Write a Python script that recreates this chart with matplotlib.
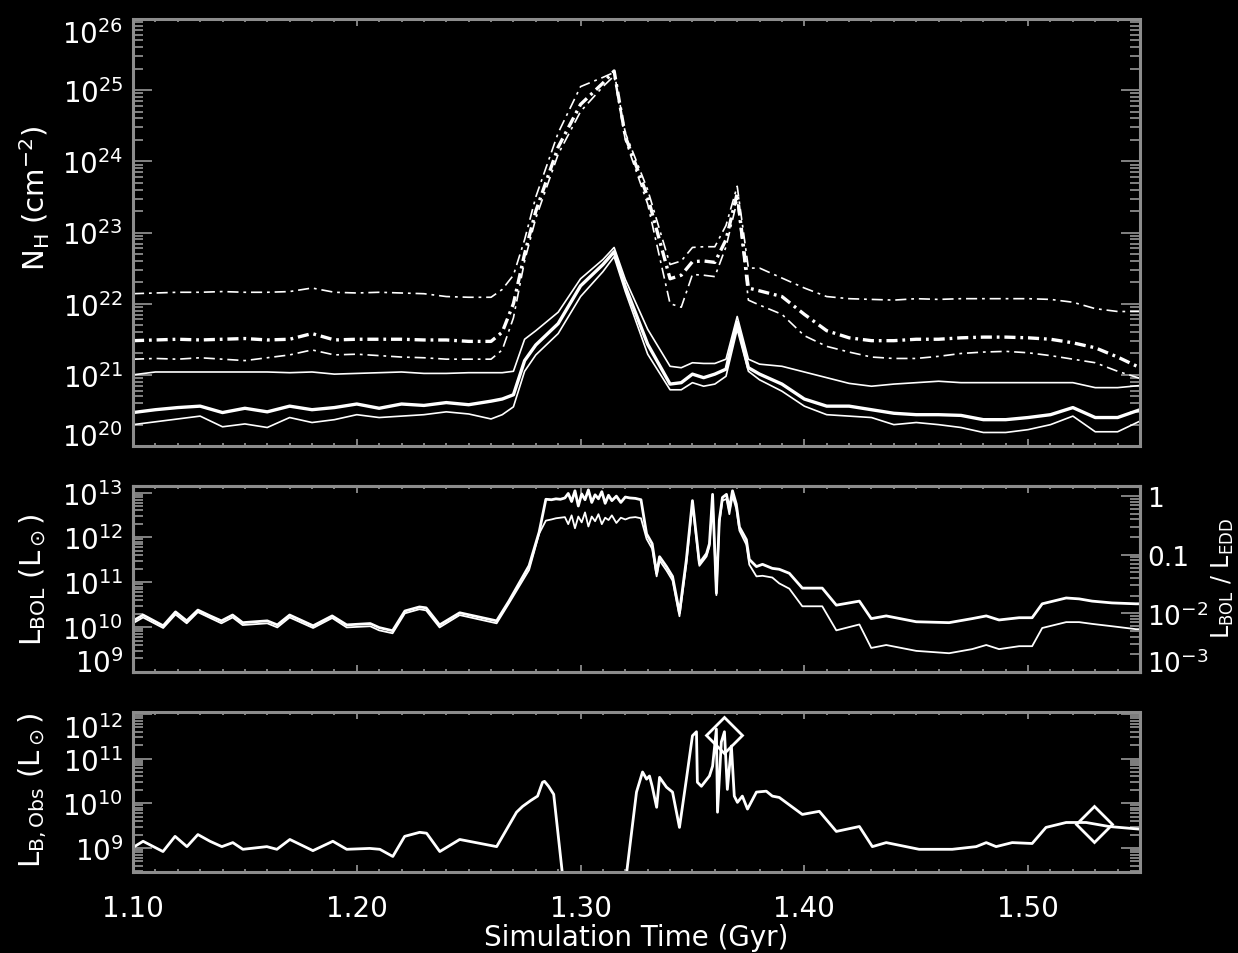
import numpy as np
import matplotlib
matplotlib.use("Agg")
import matplotlib.pyplot as plt
from matplotlib.ticker import FixedLocator, MultipleLocator, LogLocator, NullFormatter, FixedFormatter

plt.rcParams['lines.scale_dashes'] = False
plt.rcParams['font.family'] = ['DejaVu Sans']

# ---- column density (log10 N_H), one value per snapshot time ----
t_nh = [1.100, 1.110, 1.120, 1.130, 1.140, 1.150, 1.160, 1.170, 1.180, 1.190,
        1.200, 1.210, 1.220, 1.230, 1.240, 1.250, 1.260, 1.265, 1.270, 1.275,
        1.280, 1.290, 1.300, 1.310, 1.315, 1.320, 1.330, 1.340, 1.345, 1.350,
        1.355, 1.360, 1.365, 1.370, 1.375, 1.380, 1.390, 1.400, 1.410, 1.420,
        1.430, 1.440, 1.450, 1.460, 1.470, 1.480, 1.490, 1.500, 1.510, 1.520,
        1.530, 1.540, 1.550]

nh_dd_hi = [22.14, 22.15, 22.16, 22.16, 22.17, 22.16, 22.16, 22.17, 22.22, 22.16,
            22.15, 22.16, 22.15, 22.14, 22.10, 22.09, 22.09, 22.20, 22.40, 22.90,
            23.50, 24.40, 25.05, 25.18, 25.25, 24.40, 23.60, 22.55, 22.60, 22.79,
            22.80, 22.80, 23.10, 23.65, 22.50, 22.50, 22.36, 22.22, 22.10, 22.07,
            22.06, 22.05, 22.07, 22.06, 22.07, 22.07, 22.07, 22.07, 22.06, 22.02,
            21.93, 21.89, 21.89]
nh_dd_mid = [21.48, 21.49, 21.50, 21.49, 21.50, 21.51, 21.49, 21.50, 21.58, 21.49,
             21.50, 21.50, 21.50, 21.49, 21.49, 21.47, 21.47, 21.60, 22.00, 22.70,
             23.30, 24.20, 24.80, 25.10, 25.27, 24.35, 23.50, 22.35, 22.40, 22.59,
             22.60, 22.58, 22.90, 23.55, 22.22, 22.18, 22.10, 21.85, 21.62, 21.52,
             21.48, 21.48, 21.50, 21.50, 21.52, 21.53, 21.53, 21.52, 21.50, 21.45,
             21.38, 21.25, 21.10]
nh_dd_lo = [21.22, 21.23, 21.22, 21.24, 21.22, 21.20, 21.24, 21.28, 21.35, 21.28,
            21.29, 21.27, 21.25, 21.24, 21.22, 21.22, 21.22, 21.35, 21.80, 22.60,
            23.20, 24.10, 24.70, 25.05, 25.20, 24.30, 23.40, 22.00, 21.95, 22.41,
            22.40, 22.38, 22.80, 23.45, 22.05, 21.98, 21.85, 21.55, 21.40, 21.32,
            21.25, 21.23, 21.23, 21.26, 21.30, 21.32, 21.33, 21.31, 21.27, 21.22,
            21.17, 21.05, 20.95]
nh_s_hi = [21.00, 21.04, 21.04, 21.04, 21.04, 21.04, 21.04, 21.03, 21.04, 21.01,
           21.02, 21.03, 21.04, 21.02, 21.02, 21.03, 21.03, 21.03, 21.05, 21.50,
           21.62, 21.88, 22.35, 22.62, 22.79, 22.34, 21.64, 21.12, 21.10, 21.17,
           21.16, 21.16, 21.22, 21.82, 21.22, 21.15, 21.12, 21.04, 20.96, 20.88,
           20.84, 20.87, 20.89, 20.91, 20.89, 20.89, 20.89, 20.89, 20.89, 20.89,
           20.82, 20.82, 20.85]
nh_s_mid = [20.47, 20.51, 20.54, 20.56, 20.47, 20.53, 20.48, 20.56, 20.51, 20.54,
            20.59, 20.53, 20.59, 20.57, 20.61, 20.58, 20.63, 20.66, 20.72, 21.20,
            21.42, 21.72, 22.25, 22.55, 22.73, 22.24, 21.43, 20.87, 20.89, 21.01,
            20.96, 21.01, 21.08, 21.74, 21.10, 21.01, 20.87, 20.66, 20.56, 20.56,
            20.51, 20.46, 20.44, 20.44, 20.43, 20.37, 20.37, 20.40, 20.44, 20.54,
            20.40, 20.40, 20.51]
nh_s_lo = [20.30, 20.34, 20.38, 20.42, 20.27, 20.31, 20.26, 20.40, 20.33, 20.37,
           20.44, 20.40, 20.42, 20.44, 20.48, 20.45, 20.38, 20.44, 20.55, 21.05,
           21.28, 21.58, 22.10, 22.45, 22.66, 22.17, 21.29, 20.79, 20.79, 20.89,
           20.84, 20.87, 20.98, 21.64, 21.05, 20.93, 20.77, 20.56, 20.44, 20.42,
           20.40, 20.30, 20.33, 20.30, 20.26, 20.19, 20.19, 20.23, 20.30, 20.42,
           20.20, 20.20, 20.35]

# ---- bolometric luminosity (log10 L_sun) and Eddington ratio (log10) ----
t_bol = [1.1000, 1.1045, 1.1135, 1.1190, 1.1240, 1.1290, 1.1345, 1.1395, 1.1445, 1.1490,
         1.1600, 1.1645, 1.1700, 1.1805, 1.1890, 1.1955, 1.2060, 1.2100, 1.2160, 1.2215,
         1.2280, 1.2310, 1.2370, 1.2460, 1.2625, 1.2680, 1.2770, 1.2815, 1.2845,
         1.2870, 1.2890, 1.2910, 1.2930, 1.2945, 1.2960, 1.2975, 1.2990, 1.3005, 1.3020,
         1.3035, 1.3050, 1.3065, 1.3080, 1.3095, 1.3110, 1.3125, 1.3140, 1.3160, 1.3180,
         1.3200, 1.3220, 1.3245, 1.3270,
         1.3295, 1.3320, 1.3340, 1.3353, 1.3384, 1.3411, 1.3442, 1.3473, 1.3500, 1.3518,
         1.3531, 1.3563, 1.3576, 1.3590, 1.3607, 1.3620, 1.3634, 1.3652, 1.3665, 1.3679,
         1.3696, 1.3710, 1.3741, 1.3754, 1.3786, 1.3813, 1.3857, 1.3888, 1.3933, 1.3991,
         1.4080, 1.4143, 1.4246, 1.4299, 1.4366, 1.4500, 1.4647, 1.4750, 1.4813, 1.4870,
         1.4960, 1.5018, 1.5063, 1.5170, 1.5228, 1.5286, 1.5375, 1.5482, 1.5500]
lbol = [10.14, 10.27, 10.03, 10.34, 10.14, 10.38, 10.25, 10.14, 10.27, 10.10,
        10.14, 10.05, 10.27, 10.03, 10.25, 10.05, 10.08, 9.99, 9.92, 10.36,
        10.45, 10.43, 10.05, 10.32, 10.14, 10.58, 11.37, 12.12, 12.85,
        12.84, 12.86, 12.85, 12.88, 12.98, 12.80, 13.04, 12.70, 12.97, 12.84,
        13.06, 12.78, 12.95, 12.86, 13.02, 12.76, 12.94, 12.82, 12.92, 12.78,
        12.90, 12.88, 12.87, 12.84,
        12.08, 11.86, 11.20, 11.57, 11.35, 11.13, 10.32, 11.51, 12.82, 12.01,
        11.42, 11.64, 11.86, 12.96, 10.76, 12.38, 12.89, 12.96, 12.63, 13.04,
        12.74, 12.23, 11.95, 11.51, 11.35, 11.40, 11.31, 11.29, 11.20, 10.87,
        10.87, 10.49, 10.58, 10.19, 10.25, 10.12, 10.10, 10.19, 10.25, 10.16,
        10.21, 10.21, 10.52, 10.65, 10.63, 10.58, 10.54, 10.52, 10.52]
edd_ratio = [-2.17, -2.07, -2.25, -2.02, -2.17, -1.98, -2.08, -2.17, -2.07, -2.20,
             -2.17, -2.24, -2.07, -2.25, -2.08, -2.24, -2.22, -2.29, -2.34, -2.00,
             -1.93, -1.95, -2.24, -2.03, -2.17, -1.83, -1.26, -0.64, -0.42,
             -0.40, -0.38, -0.37, -0.36, -0.48, -0.33, -0.55, -0.35, -0.45, -0.28,
             -0.52, -0.35, -0.43, -0.31, -0.48, -0.37, -0.41, -0.33, -0.46, -0.37,
             -0.40, -0.37, -0.36, -0.38,
             -0.73, -0.90, -1.37, -1.10, -1.27, -1.44, -2.05, -1.15, -0.14, -0.75,
             -1.19, -1.03, -0.86, -0.02, -1.69, -0.46, -0.08, -0.05, -0.31, 0.00,
             -0.22, -0.59, -0.83, -1.17, -1.37, -1.36, -1.39, -1.49, -1.58, -1.88,
             -1.88, -2.29, -2.19, -2.59, -2.54, -2.64, -2.68, -2.61, -2.54, -2.61,
             -2.56, -2.56, -2.25, -2.15, -2.15, -2.18, -2.22, -2.27, -2.27]

# ---- observed B-band luminosity (log10 L_sun); 7.0 marks obscured snapshots ----
t_bobs = [1.1000, 1.1045, 1.1134, 1.1188, 1.1241, 1.1290, 1.1344, 1.1397, 1.1446, 1.1491,
          1.1598, 1.1643, 1.1701, 1.1804, 1.1893, 1.1955, 1.2058, 1.2103, 1.2161, 1.2214,
          1.2281, 1.2312, 1.2371, 1.2460, 1.2625, 1.2714, 1.2741, 1.2777, 1.2808, 1.2830,
          1.2839, 1.2857, 1.2880, 1.2950, 1.3195, 1.3250, 1.3277, 1.3295, 1.3308, 1.3320,
          1.3340, 1.3353, 1.3384, 1.3411, 1.3442, 1.3473, 1.3500, 1.3518, 1.3522, 1.3540,
          1.3576, 1.3590, 1.3607, 1.3612, 1.3629, 1.3643, 1.3656, 1.3674, 1.3687, 1.3701,
          1.3723, 1.3746, 1.3786, 1.3830, 1.3857, 1.3888, 1.3991, 1.4067, 1.4143, 1.4246,
          1.4304, 1.4366, 1.4513, 1.4661, 1.4768, 1.4813, 1.4857, 1.4929, 1.5018, 1.5080,
          1.5170, 1.5259, 1.5362, 1.5500]
lb_obs = [9.01, 9.15, 8.92, 9.26, 9.03, 9.30, 9.15, 9.03, 9.12, 8.97,
          9.03, 8.97, 9.19, 8.94, 9.15, 8.97, 8.99, 8.97, 8.81, 9.26,
          9.35, 9.33, 8.92, 9.19, 9.03, 9.80, 9.93, 10.06, 10.16, 10.47,
          10.49, 10.38, 10.20, 7.00, 8.00, 10.25, 10.70, 10.54, 10.61, 10.38,
          9.91, 10.58, 10.36, 10.25, 9.46, 10.54, 11.51, 11.60, 10.47, 10.38,
          10.61, 10.83, 11.66, 9.80, 11.37, 11.60, 10.31, 11.28, 10.16, 10.02,
          10.16, 9.87, 10.25, 10.27, 10.16, 10.13, 9.75, 9.82, 9.37, 9.48,
          9.03, 9.12, 8.97, 8.97, 9.03, 9.12, 9.03, 9.12, 9.10, 9.46,
          9.57, 9.57, 9.48, 9.42]

# diamonds: observed points
t_diam = [1.3643, 1.5295]
lb_diam = [11.53, 9.53]

fg = 'white'
axcol = '#8c8c8c'

fig = plt.figure(figsize=(12.38, 9.54), dpi=100, facecolor='black')
W, H = 1238.0, 954.0


def panel(x0, y0, x1, y1):
    ax = fig.add_axes([x0 / W, 1 - y1 / H, (x1 - x0) / W, (y1 - y0) / H])
    ax.set_facecolor('black')
    for s in ax.spines.values():
        s.set_color(axcol)
        s.set_linewidth(2.2)
    ax.set_xlim(1.10, 1.55)
    ax.set_yscale('log')
    ax.xaxis.set_major_locator(MultipleLocator(0.1))
    ax.xaxis.set_minor_locator(MultipleLocator(0.01))
    ax.tick_params(axis='x', which='both', direction='in', top=True, bottom=True,
                   color=axcol, labelcolor=fg, labelsize=20, pad=16)
    ax.tick_params(axis='x', which='major', length=5, width=1.3)
    ax.tick_params(axis='x', which='minor', length=2.5, width=1.3)
    ax.tick_params(axis='y', which='both', direction='in', left=True, right=True,
                   color=axcol, labelcolor=fg, labelsize=20, pad=7)
    ax.tick_params(axis='y', which='major', length=14, width=1.3)
    ax.tick_params(axis='y', which='minor', length=7, width=1.3)
    return ax


def log_ticks(ax, lo, hi):
    ax.yaxis.set_major_locator(FixedLocator([10.0 ** k for k in range(lo, hi + 1)]))
    ax.yaxis.set_minor_locator(LogLocator(base=10, subs=np.arange(2, 10), numticks=50))
    ax.yaxis.set_minor_formatter(NullFormatter())


def pin_label(ax, idx, va, side='left'):
    tk = ax.yaxis.get_major_ticks()[idx]
    (tk.label1 if side == 'left' else tk.label2).set_verticalalignment(va)


# ---------------- top: column density ----------------
ax1 = panel(133, 20, 1140, 447)
t = np.array(t_nh)
dd = (0, (8, 3.5, 2, 3.5))
ax1.plot(t, 10 ** np.array(nh_dd_hi), color=fg, lw=1.2, ls=dd)
ax1.plot(t, 10 ** np.array(nh_dd_mid), color=fg, lw=2.4, ls=dd)
ax1.plot(t, 10 ** np.array(nh_dd_lo), color=fg, lw=1.2, ls=dd)
ax1.plot(t, 10 ** np.array(nh_s_hi), color=fg, lw=1.2)
ax1.plot(t, 10 ** np.array(nh_s_mid), color=fg, lw=2.4)
ax1.plot(t, 10 ** np.array(nh_s_lo), color=fg, lw=1.2)
ax1.set_ylim(1e20, 1e26)
log_ticks(ax1, 20, 26)
ax1.tick_params(axis='x', labelbottom=False)
pin_label(ax1, 0, 'baseline')
pin_label(ax1, -1, 'top')

# ---------------- middle: L_BOL and Eddington ratio ----------------
ax2 = panel(133, 487, 1140, 673)
ax2.plot(t_bol, 10 ** np.array(lbol), color=fg, lw=2.0)
ax2.set_ylim(1e9, 1.4e13)
log_ticks(ax2, 9, 13)
ax2.tick_params(axis='x', labelbottom=False)
ax2.tick_params(axis='y', which='both', right=False)
pin_label(ax2, 0, 'baseline')

ax2r = ax2.twinx()
for s in ax2r.spines.values():
    s.set_color(axcol)
    s.set_linewidth(2.2)
ax2r.set_yscale('log')
ax2r.plot(t_bol, 10 ** np.array(edd_ratio), color=fg, lw=1.3)
ax2r.set_ylim(1e-3, 1.48)
ax2r.yaxis.set_major_locator(FixedLocator([1e-3, 1e-2, 1e-1, 1.0]))
ax2r.yaxis.set_major_formatter(FixedFormatter(['$10^{-3}$', '$10^{-2}$', '0.1', '1']))
ax2r.yaxis.set_minor_locator(LogLocator(base=10, subs=np.arange(2, 10), numticks=50))
ax2r.yaxis.set_minor_formatter(NullFormatter())
ax2r.tick_params(axis='y', which='both', direction='in', color=axcol, labelcolor=fg,
                 labelsize=19, pad=5)
ax2r.tick_params(axis='y', which='major', length=14, width=1.3)
ax2r.tick_params(axis='y', which='minor', length=7, width=1.3)
pin_label(ax2r, 0, 'baseline', side='right')

# ---------------- bottom: observed B-band luminosity ----------------
ax3 = panel(133, 713, 1140, 873)
ax3.plot(t_bobs, 10 ** np.array(lb_obs), color=fg, lw=2.0)
ax3.plot(t_diam, 10 ** np.array(lb_diam), ls='none', marker='D', ms=18,
         mfc='none', mec=fg, mew=2.0)
ax3.set_ylim(2.9e8, 1.1e12)
log_ticks(ax3, 9, 12)
ax3.set_xticks([1.1, 1.2, 1.3, 1.4, 1.5])
ax3.set_xticklabels(['1.10', '1.20', '1.30', '1.40', '1.50'])
pin_label(ax3, -1, 'top')

# axis titles
fig.text(35 / W, 1 - 198 / H, r'N$_{\rm H}$ (cm$^{-2}$)', color=fg, fontsize=21,
         rotation=90, ha='center', va='center')
fig.text(33 / W, 1 - 580 / H, r'L$_{\rm BOL}$ (L$_\odot$)', color=fg, fontsize=21,
         rotation=90, ha='center', va='center')
fig.text(33 / W, 1 - 790 / H, r'L$_{\rm B,Obs}$ (L$_\odot$)', color=fg, fontsize=21,
         rotation=90, ha='center', va='center')
fig.text(1223 / W, 1 - 578 / H, r'L$_{\rm BOL}$ / L$_{\rm EDD}$', color=fg, fontsize=17,
         rotation=90, ha='center', va='center')
fig.text(636 / W, 1 - 938 / H, 'Simulation Time (Gyr)', color=fg, fontsize=20,
         ha='center', va='center')

fig.savefig('out.png', dpi=100, facecolor='black')
